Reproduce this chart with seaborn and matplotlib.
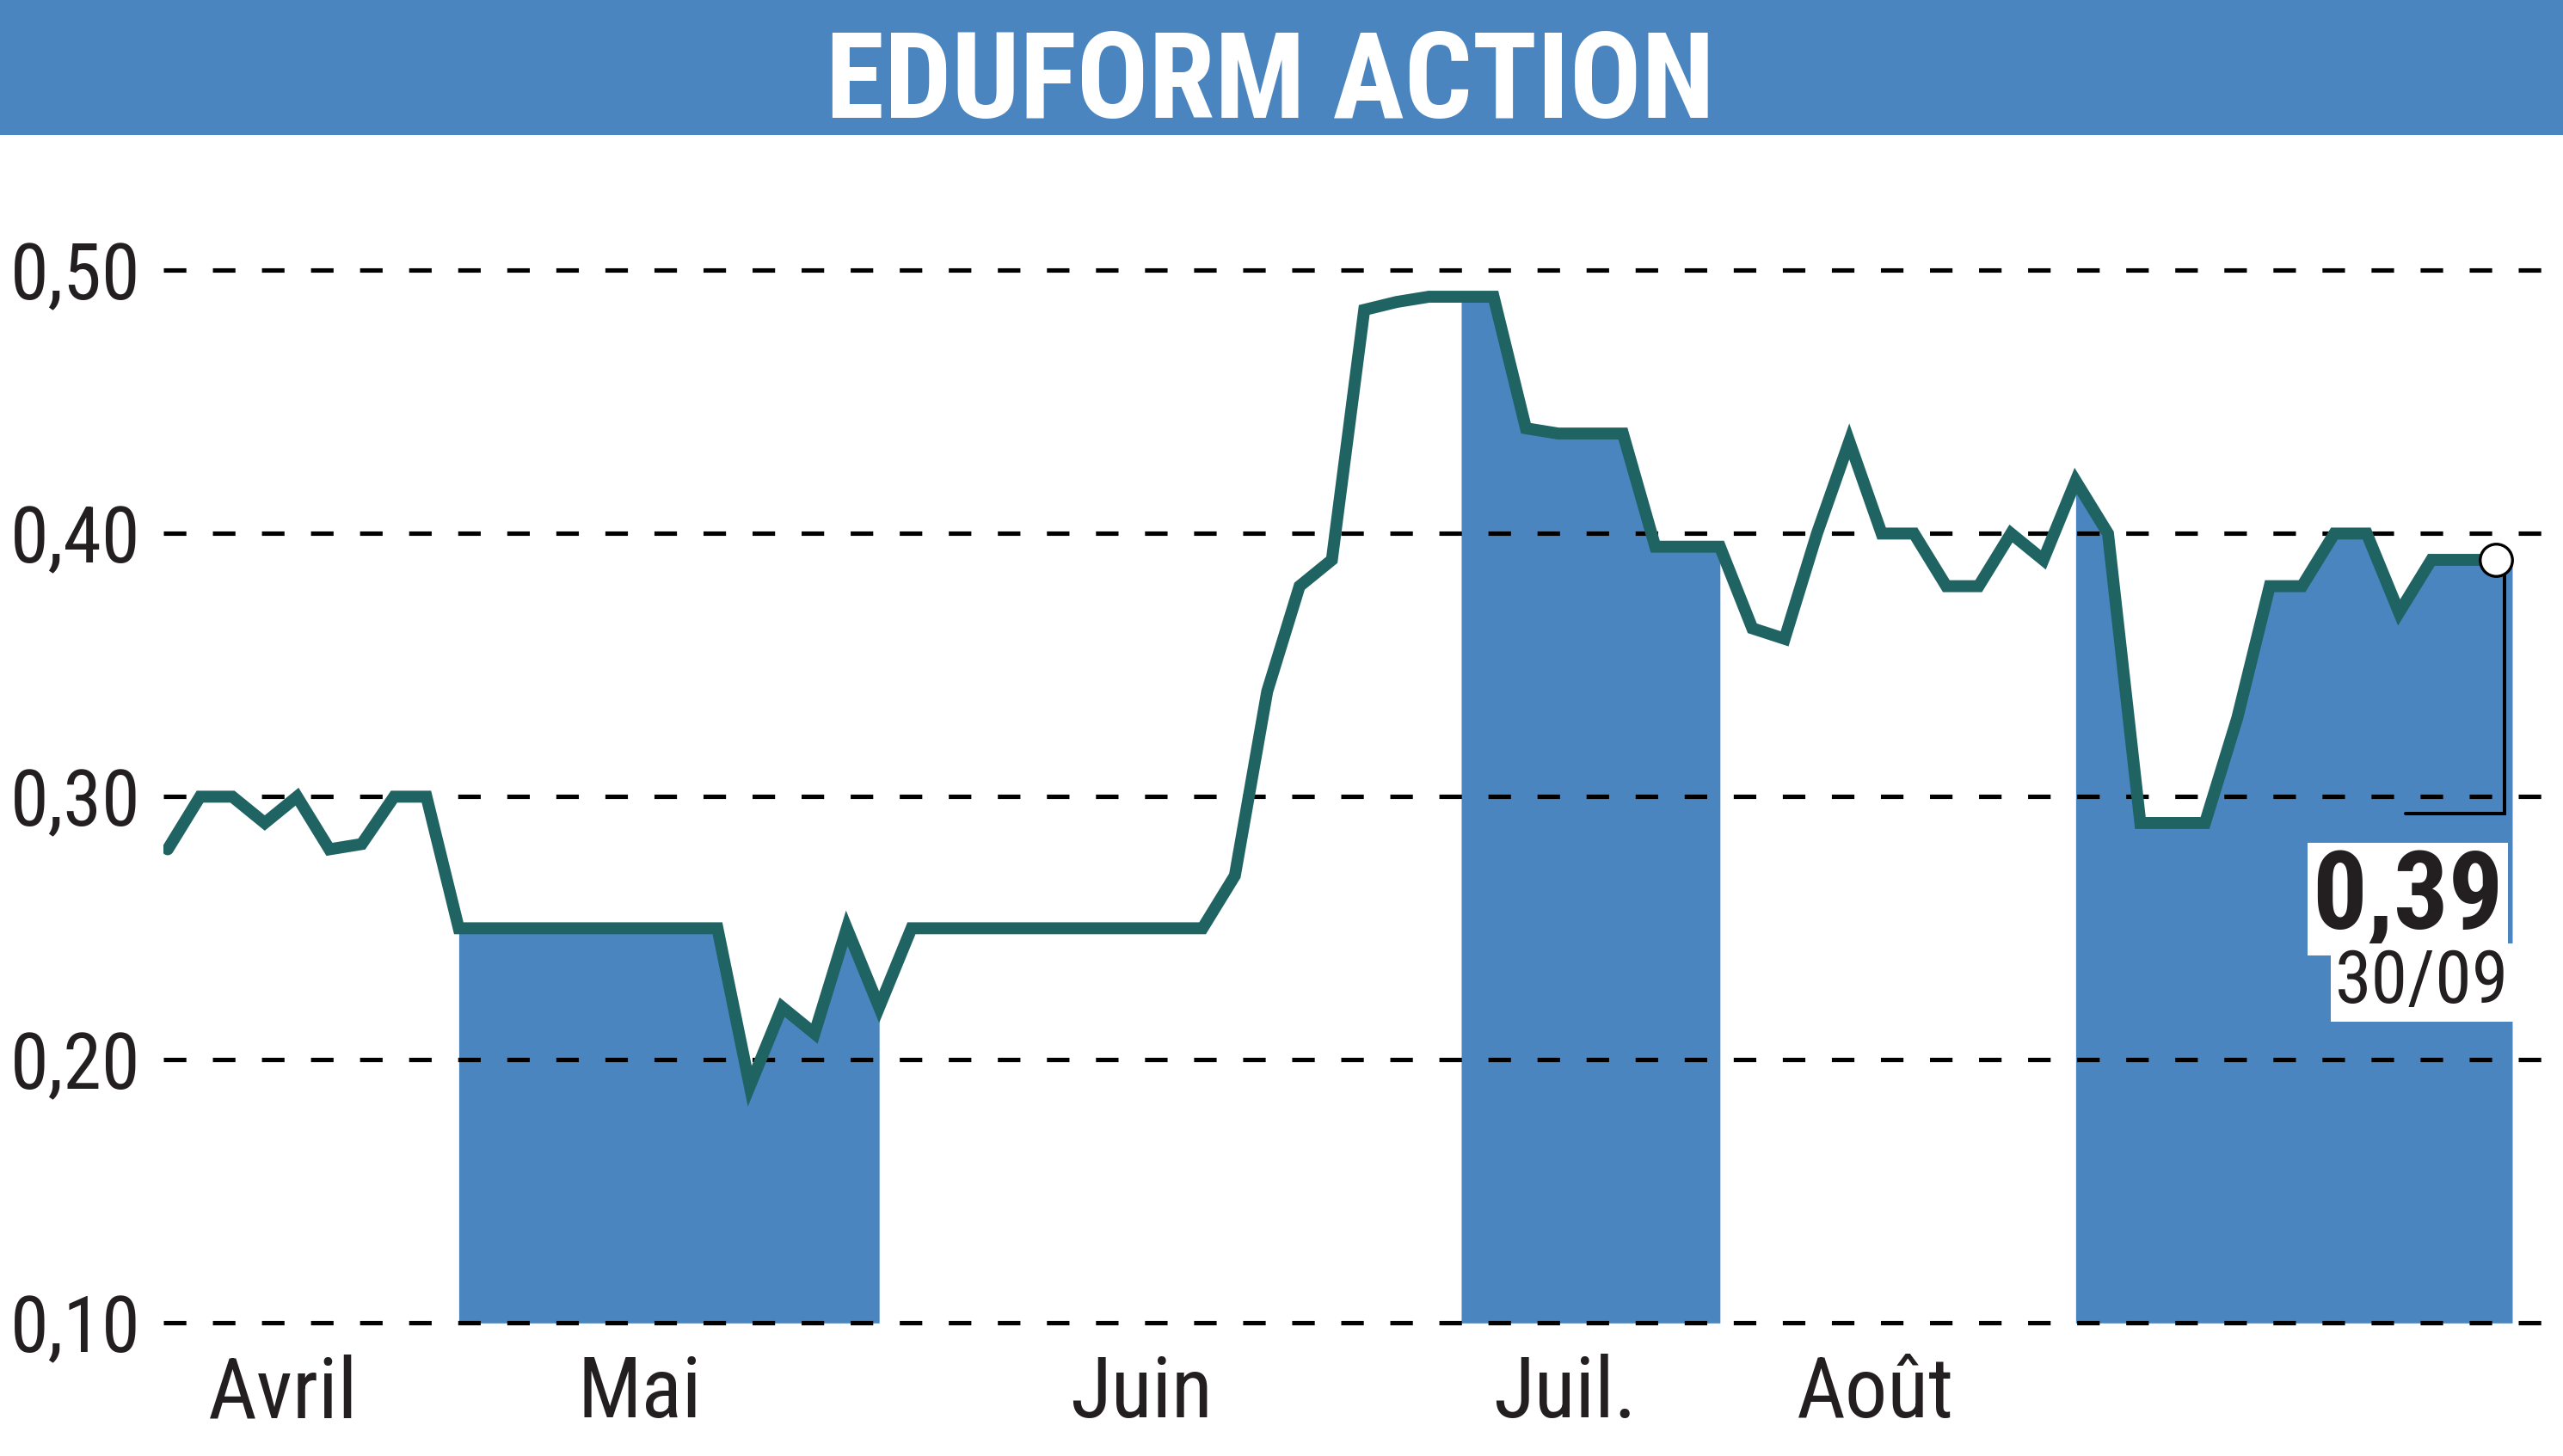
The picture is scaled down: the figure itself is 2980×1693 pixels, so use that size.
import numpy as np
import pandas as pd
import seaborn as sns
import matplotlib.pyplot as plt
from matplotlib.patches import Rectangle

# ---- data ----
title = 'EDUFORM ACTION'
prices = [0.28, 0.30, 0.30, 0.29, 0.30, 0.28, 0.282, 0.30, 0.30,            # avril
          0.25, 0.25, 0.25, 0.25, 0.25, 0.25, 0.25, 0.25, 0.25,
          0.19, 0.22, 0.21, 0.25, 0.22,                                    # mai
          0.25, 0.25, 0.25, 0.25, 0.25, 0.25, 0.25, 0.25, 0.25, 0.25,
          0.27, 0.34, 0.38, 0.39, 0.485, 0.488, 0.49,                      # juin
          0.49, 0.49, 0.44, 0.438, 0.438, 0.438, 0.395, 0.395, 0.395,      # juillet
          0.364, 0.36, 0.40, 0.435, 0.40, 0.40, 0.38, 0.38, 0.40, 0.39,    # aout
          0.42, 0.40, 0.29, 0.29, 0.29, 0.33, 0.38, 0.38, 0.40, 0.40,
          0.37, 0.39, 0.39, 0.39]                                          # septembre
month_names = ['Avril', 'Mai', 'Juin', 'Juil.', 'Août', 'Sept']
month_first = [0, 9, 23, 40, 49, 59]
shaded = ['Mai', 'Juil.', 'Sept']
ytick_values = [0.10, 0.20, 0.30, 0.40, 0.50]
ytick_labels = ['0,10', '0,20', '0,30', '0,40', '0,50']
last_value = '0,39'
last_date = '30/09'

df = pd.DataFrame({'idx': np.arange(len(prices)), 'price': prices})

blue = '#4a85c0'
teal = '#1f6462'
ink = '#231f20'

sns.set_style('white')
plt.rcParams['font.family'] = ['Roboto Condensed', 'Archivo Narrow', 'DejaVu Sans']

W, H = 2980, 1693
fig = plt.figure(figsize=(W / 100, H / 100), dpi=100)

# header band + title
fig.add_artist(Rectangle((0, 1 - 157 / H), 1, 157 / H, transform=fig.transFigure,
                         facecolor=blue, edgecolor='none', zorder=0))
fig.text(0.4955, (H - 137) / H, title, ha='center', va='baseline',
         color='white', fontsize=100, fontweight='bold')

ax = fig.add_axes([190 / W, 0.0733, 1 - 190 / W, 0.7952])

# alternating month bands (filled under the curve down to the 0,10 line)
n = len(prices)
base = ytick_values[0]
for k, m in enumerate(month_names):
    if m not in shaded:
        continue
    s = month_first[k]
    e = month_first[k + 1] - 1 if k + 1 < len(month_first) else n - 1
    xs = df.idx.values[s:e + 1].astype(float)
    ys = df.price.values[s:e + 1]
    if e == n - 1:
        xs = np.append(xs, xs[-1] + 0.5)
        ys = np.append(ys, ys[-1])
    ax.fill_between(xs, base, ys, color=blue, lw=0, zorder=1)

sns.lineplot(data=df, x='idx', y='price', color=teal, linewidth=10, ax=ax,
             zorder=3, solid_joinstyle='miter')

# last value marker and bracket
xl, yl = df.idx.iloc[-1], df.price.iloc[-1]
ax.plot([xl + 0.27, xl + 0.27, xl - 2.8], [yl, 0.2935, 0.2935],
        color='black', lw=2.9, zorder=4, solid_joinstyle='miter')
ax.plot([xl], [yl], 'o', ms=27, mfc='white', mec='black', mew=2.4, zorder=5)

ax.text(xl + 0.23, 0.2497, last_value, ha='right', va='baseline',
        fontsize=91, fontweight='bold', color=ink, zorder=6,
        bbox=dict(facecolor='white', edgecolor='none', pad=4))
ax.text(xl + 0.4, 0.2217, last_date, ha='right', va='baseline',
        fontsize=62, color=ink, zorder=6,
        bbox=dict(facecolor='white', edgecolor='none', pad=4))

ax.set_xlim(-0.133, 74.07)
ax.set_ylim(0.09, 0.53)
ax.set_yticks(ytick_values, ytick_labels)
ax.set_xticks([3.56, 14.6, 30.1, 43.2, 52.8], month_names[:5])
ax.tick_params(axis='y', length=0, pad=19, labelsize=65, labelcolor=ink)
ax.tick_params(axis='x', length=0, pad=4, labelsize=71, labelcolor=ink)
ax.set_xlabel('')
ax.set_ylabel('')
for sp in ax.spines.values():
    sp.set_visible(False)
ax.grid(axis='y', color='black', lw=3.7, ls=(0, (5.1, 6.0)))
ax.grid(axis='x', visible=False)
ax.set_axisbelow('line')

fig.savefig('out.png', dpi=100)
